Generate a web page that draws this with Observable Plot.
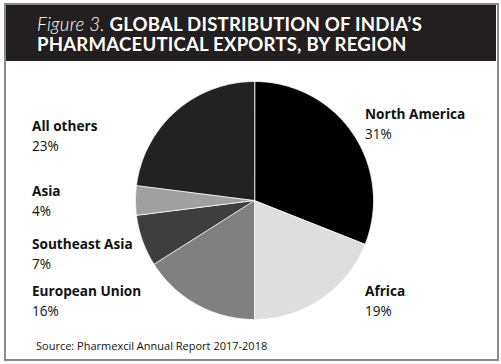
<!DOCTYPE html>
<html><head><meta charset="utf-8">
<script src="https://cdn.jsdelivr.net/npm/d3@7"></script>
<script src="https://cdn.jsdelivr.net/npm/@observablehq/plot@0.6"></script>
<style>
html,body{margin:0;padding:0;background:#fff;}
#wrap{position:relative;width:501px;height:364px;overflow:hidden;font-family:"Open Sans","Noto Sans",sans-serif;}
#frame{position:absolute;left:4px;top:3px;width:491px;height:354px;border:2px solid #8a8a8a;}
#header{position:absolute;left:6px;top:5px;width:490px;height:56px;background:#231f20;}
#title{position:absolute;left:31px;top:9px;color:#fff;font-family:Lato,"Open Sans",sans-serif;font-size:18.6px;line-height:20px;font-weight:700;white-space:nowrap;letter-spacing:0.2px;}
#title i{font-weight:300;font-style:italic;}
#chart{position:absolute;left:0;top:0;}
.lab{position:absolute;font-size:13.6px;line-height:19.5px;color:#111;}
.lab b{font-weight:700;}
#src{position:absolute;left:36px;top:338px;font-size:11px;color:#111;}
</style></head>
<body>
<div id="wrap">
  <div id="frame"></div>
  <div id="header"><div id="title"></div></div>
  <div id="chart"></div>
  <div id="labels"></div>
  <div id="src"></div>
</div>
<script>
const titleItalic = "Figure 3.";
const titleLine1 = "GLOBAL DISTRIBUTION OF INDIA\u2019S";
const titleLine2 = "PHARMACEUTICAL EXPORTS, BY REGION";
const source = "Source: Pharmexcil Annual Report 2017-2018";

const regions = ["North America", "Africa", "European Union", "Southeast Asia", "Asia", "All others"];
const shares = [31, 19, 16, 7, 4, 23];
const colors = ["#000000", "#dedede", "#808080", "#3e3e3e", "#a0a0a0", "#222222"];

document.getElementById("title").innerHTML =
  `<i>${titleItalic}</i> ${titleLine1}<br>${titleLine2}`;
document.getElementById("src").textContent = source;

// Build slice polygons in unit-circle coordinates from the pie layout
const pie = d3.pie().sort(null).value(d => d)(shares);
const pts = [];
pie.forEach((a, i) => {
  const n = Math.max(8, Math.ceil((a.endAngle - a.startAngle) / 0.01));
  pts.push({region: regions[i], x: 0, y: 0});
  for (let k = 0; k <= n; k++) {
    const t = a.startAngle + (a.endAngle - a.startAngle) * k / n;
    pts.push({region: regions[i], x: Math.sin(t), y: Math.cos(t)});
  }
});

const plot = Plot.plot({
  width: 501, height: 364,
  marginLeft: 135, marginRight: 128, marginTop: 81, marginBottom: 45,
  x: {domain: [-1, 1], axis: null},
  y: {domain: [-1, 1], axis: null},
  color: {domain: regions, range: colors},
  style: {background: "transparent"},
  marks: [
    Plot.line(pts, {x: "x", y: "y", z: "region", fill: "region", stroke: "#fff", strokeWidth: 0.8, curve: "linear-closed"})
  ]
});
document.getElementById("chart").appendChild(plot);

// label layout (positions kept in code)
const layout = {
  "North America": {left: 365, top: 104},
  "Africa": {left: 365, top: 281},
  "European Union": {left: 32, top: 281},
  "Southeast Asia": {left: 32, top: 234},
  "Asia": {left: 32, top: 181},
  "All others": {left: 32, top: 116}
};
const labels = document.getElementById("labels");
regions.forEach((r, i) => {
  const d = document.createElement("div");
  d.className = "lab";
  d.style.left = layout[r].left + "px";
  d.style.top = layout[r].top + "px";
  d.innerHTML = `<b>${r}</b><br>${shares[i]}%`;
  labels.appendChild(d);
});
</script>
</body></html>
